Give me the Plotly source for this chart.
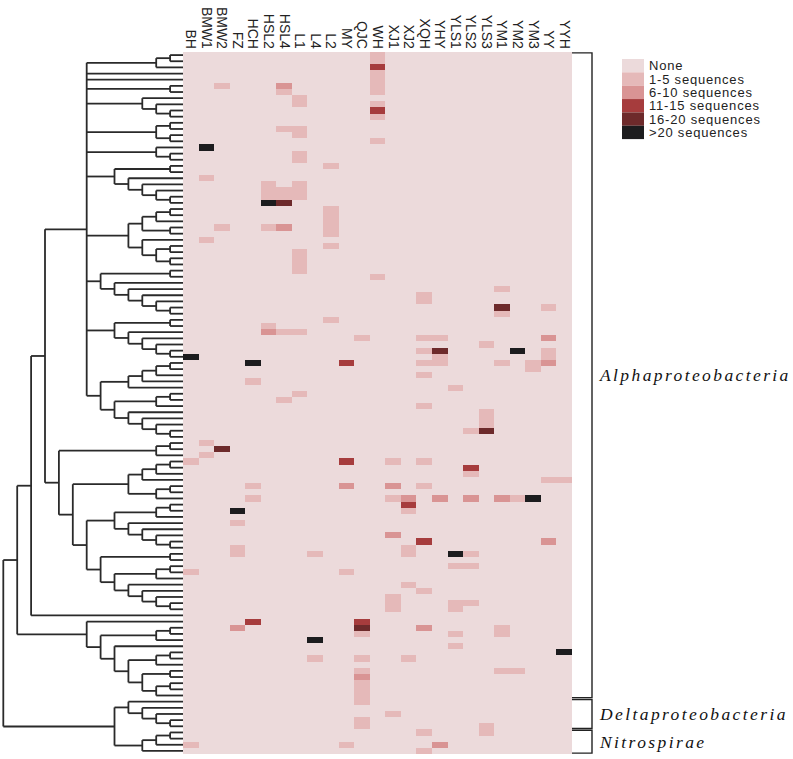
import plotly.graph_objects as go

# ---------------- data ----------------
COLUMNS = ["BH", "BMW1", "BMW2", "FZ", "HCH", "HSL2", "HSL4", "L1", "L4", "L2", "MY", "QJC", "WH",
           "XJ1", "XJ2", "XQH", "YHY", "YLS1", "YLS2", "YLS3", "YM1", "YM2", "YM3", "YY", "YYH"]
N_ROWS = 114
LEVEL_NAMES = ["None", "1-5 sequences", "6-10 sequences", "11-15 sequences", "16-20 sequences", ">20 sequences"]
LEVEL_COLORS = ["#ecdadb", "#e5b9b9", "#d99494", "#a63c3d", "#6d2a2b", "#1c1c1e"]

# (row, level) for each non-empty cell, per column
BH = [(49, 5), (66, 1), (84, 1), (112, 1)]
BMW1 = [(15, 5), (20, 1), (30, 1), (63, 1), (65, 1)]
BMW2 = [(5, 1), (28, 1), (64, 4)]
FZ = [(74, 5), (76, 1), (80, 1), (81, 1), (93, 2)]
HCH = [(50, 5), (53, 1), (70, 1), (72, 1), (92, 3)]
HSL2 = [(21, 1), (22, 1), (23, 1), (24, 5), (28, 1), (44, 1), (45, 2)]
HSL4 = [(5, 2), (6, 1), (12, 1), (22, 1), (23, 1), (24, 4), (28, 2), (45, 1), (56, 1)]
L1 = [(7, 1), (8, 1), (12, 1), (13, 1), (16, 1), (17, 1), (21, 1), (22, 1), (23, 1),
      (32, 1), (33, 1), (34, 1), (35, 1), (45, 1), (55, 1)]
L4 = [(81, 1), (95, 5), (98, 1)]
L2 = [(18, 1), (25, 1), (26, 1), (27, 1), (28, 1), (29, 1), (31, 1), (43, 1)]
MY = [(50, 3), (66, 3), (70, 2), (84, 1), (112, 1)]
QJC = [(46, 1), (92, 3), (93, 4), (94, 1), (98, 1), (100, 1), (101, 2), (102, 1), (103, 1),
       (104, 1), (105, 1), (108, 1), (109, 1)]
WH = [(0, 1), (1, 1), (2, 3), (3, 1), (4, 1), (5, 1), (6, 1), (8, 1), (9, 3), (10, 1), (14, 1), (36, 1)]
XJ1 = [(66, 1), (70, 2), (72, 1), (78, 2), (88, 1), (89, 1), (90, 1), (107, 1)]
XJ2 = [(72, 2), (73, 3), (74, 1), (80, 1), (81, 1), (86, 1), (98, 1)]
XQH = [(39, 1), (40, 1), (46, 1), (48, 1), (50, 1), (52, 1), (57, 1), (66, 1), (70, 1), (79, 3),
       (87, 1), (93, 2), (110, 1), (113, 1)]
YHY = [(46, 1), (48, 4), (49, 1), (50, 1), (72, 2), (112, 2)]
YLS1 = [(54, 1), (81, 5), (83, 1), (89, 1), (90, 1), (94, 1), (96, 1)]
YLS2 = [(61, 1), (67, 3), (68, 1), (72, 2), (81, 1), (83, 1), (89, 1)]
YLS3 = [(47, 1), (58, 1), (59, 1), (60, 1), (61, 4), (109, 1), (110, 1)]
YM1 = [(38, 1), (41, 4), (42, 1), (50, 1), (72, 2), (93, 1), (94, 1), (100, 1)]
YM2 = [(48, 5), (72, 1), (100, 1)]
YM3 = [(50, 1), (51, 1), (72, 5)]
YY = [(41, 1), (46, 2), (48, 1), (49, 1), (50, 2), (69, 1), (79, 2)]
YYH = [(69, 1), (97, 5)]
COLUMN_CELLS = [BH, BMW1, BMW2, FZ, HCH, HSL2, HSL4, L1, L4, L2, MY, QJC, WH,
                XJ1, XJ2, XQH, YHY, YLS1, YLS2, YLS3, YM1, YM2, YM3, YY, YYH]

# dendrogram: [level, child, child, ...]; an int child is a leaf (row index)
CLADE_A = [7,
           [2, [1, 0, 1], 2],
           3,
           4,
           [1, 5, 6],
           [3, 7, [2, 8, [1, 9, 10]]],
           [2, [1, 11, 12], [1, 13, 14]],
           [2, 15, [1, 16, 17]],
           [5, [1, 18, 19], [4, 20, [3, 21, [2, 22, [1, 23, 24]]]]],
           [4, [3, [2, [1, 25, 26], 27], [1, 28, 29]], [3, 30, [2, [1, 31, 32], [1, 33, 34]]]],
           [6, [1, 35, 36], [5, 37, [4, 38, [3, 39, [2, 40, [1, 41, 42]]]]]],
           [5, [1, 43, 44], [4, 45, [3, 46, [2, 47, [1, 48, 49]]]]],
           [6, [4, [3, [2, [1, 50, 51], 52], 53], 54],
            [5, [2, [1, 55, 56], 57], [4, 58, [3, 59, [2, 60, [1, 61, 62]]]]]]]
CLADE_B = [9, [2, [1, 63, 64], 65],
           [8, [4, [3, [2, [1, 66, 67], 68], 69], [2, [1, 70, 71], 72]],
            [7, [5, [2, [1, 73, 74], 75], [4, 76, [3, 77, [2, 78, [1, 79, 80]]]]],
             [6, [1, 81, 82], [5, [2, [1, 83, 84], 85], [4, 86, [3, 87, [2, 88, [1, 89, 90]]]]]]]]]
CLADE_C = [7, 92, [6, [2, [1, 93, 94], 95],
                   [5, 96, [4, [2, [1, 97, 98], 99], [3, [1, 100, 101], [2, [1, 102, 103], 104]]]]]]
DELTA = [4, 105, [3, 106, [2, 107, [1, 108, 109]]]]
NITRO = [3, [2, [1, 110, 111], 112], 113]
TREE = [13, [12, [11, [10, CLADE_A, CLADE_B], 91], CLADE_C], [5, DELTA, NITRO]]

GROUP_NAMES = ["Alphaproteobacteria", "Deltaproteobacteria", "Nitrospirae"]
GROUP_FIRST = [0, 105, 110]
GROUP_LAST = [104, 109, 113]

# ---------------- layout constants (pixels) ----------------
W, H = 793, 759
HM_L, HM_R = 183, 572
HM_T, HM_B = 52, 754
STEP = 13.9          # px per dendrogram level
BR_X = 592           # bracket x
LEG_X0, LEG_X1, LEG_Y0, LEG_BOX = 622, 644, 59, 13.35

# ---------------- build ----------------
z = [[0] * len(COLUMNS) for _ in range(N_ROWS)]
for ci, cells in enumerate(COLUMN_CELLS):
    for r, lv in cells:
        z[r][ci] = lv

n = len(LEVEL_COLORS)
cs = []
for i, c in enumerate(LEVEL_COLORS):
    cs.append([i / n, c])
    cs.append([(i + 1) / n, c])

fig = go.Figure()
fig.add_trace(go.Heatmap(z=z, x=COLUMNS, y=list(range(N_ROWS)), colorscale=cs,
                         zmin=-0.5, zmax=n - 0.5, showscale=False, hoverinfo="skip",
                         xaxis="x", yaxis="y"))

xs, ys = [], []


def walk(node):
    if isinstance(node, int):
        return 0.0, float(node)
    lv = node[0]
    pts = [walk(ch) for ch in node[1:]]
    for cx, cy in pts:
        xs.extend([cx, lv, None])
        ys.extend([cy, cy, None])
    lo = min(p[1] for p in pts)
    hi = max(p[1] for p in pts)
    xs.extend([lv, lv, None])
    ys.extend([lo, hi, None])
    return lv, (lo + hi) / 2


walk(TREE)
fig.add_trace(go.Scatter(x=xs, y=ys, mode="lines", line=dict(color="#2a2a2a", width=1.8),
                         xaxis="x2", yaxis="y", hoverinfo="skip", showlegend=False,
                         cliponaxis=False))

# group brackets
bx, by = [], []
for f, l in zip(GROUP_FIRST, GROUP_LAST):
    y0, y1 = f - 0.35, l + 0.35
    bx.extend([HM_R, BR_X, BR_X, HM_R, None])
    by.extend([y0, y0, y1, y1, None])
fig.add_trace(go.Scatter(x=bx, y=by, mode="lines", line=dict(color="#222222", width=1.4),
                         xaxis="x3", yaxis="y", hoverinfo="skip", showlegend=False, cliponaxis=False))

ann = []
for name, f, l in zip(GROUP_NAMES, GROUP_FIRST, GROUP_LAST):
    ann.append(dict(x=BR_X + 5, y=(f + l) / 2, xref="x3", yref="y",
                    text='<span style="letter-spacing:2.4px"><i>%s</i></span>' % name,
                    showarrow=False, xanchor="left", yanchor="middle",
                    font=dict(family="Liberation Serif", size=17.5, color="#111111")))

shapes = []
for i, (name, col) in enumerate(zip(LEVEL_NAMES, LEVEL_COLORS)):
    t = LEG_Y0 + i * LEG_BOX
    shapes.append(dict(type="rect", xref="paper", yref="paper",
                       x0=LEG_X0 / W, x1=LEG_X1 / W, y0=1 - (t + LEG_BOX) / H, y1=1 - t / H,
                       fillcolor=col, line=dict(width=0)))
    ann.append(dict(x=(LEG_X1 + 4) / W, y=1 - (t + LEG_BOX / 2) / H, xref="paper", yref="paper",
                    text='<span style="letter-spacing:0.8px">%s</span>' % name,
                    showarrow=False, xanchor="left", yanchor="middle",
                    height=13, borderpad=0,
                    font=dict(family="Liberation Sans", size=13, color="#222222")))

ydom = [1 - HM_B / H, 1 - HM_T / H]
fig.update_layout(
    width=W, height=H, margin=dict(l=0, r=0, t=0, b=0, autoexpand=False),
    paper_bgcolor="white", plot_bgcolor="white", showlegend=False,
    xaxis=dict(domain=[HM_L / W, HM_R / W], side="top", tickangle=90, ticks="",
               tickmode="array", tickvals=COLUMNS, ticktext=COLUMNS, automargin=False,
               showgrid=False, zeroline=False, showline=False, anchor="y",
               tickfont=dict(family="Liberation Sans", size=14, color="#222222")),
    yaxis=dict(domain=ydom, range=[N_ROWS - 0.5, -0.5], showticklabels=False, ticks="",
               automargin=False, showgrid=False, zeroline=False, showline=False),
    xaxis2=dict(domain=[0, HM_L / W], range=[(HM_L + 1) / STEP, 1 / STEP], anchor="y",
                automargin=False,
                showticklabels=False, ticks="", showgrid=False, zeroline=False, showline=False),
    xaxis3=dict(domain=[HM_R / W, 1], range=[HM_R, W], anchor="y", automargin=False,
                showticklabels=False, ticks="", showgrid=False, zeroline=False, showline=False),
    annotations=ann, shapes=shapes,
)
fig.write_html("out.html", config={"displayModeBar": False},
               post_script="document.body.style.margin='0';")
